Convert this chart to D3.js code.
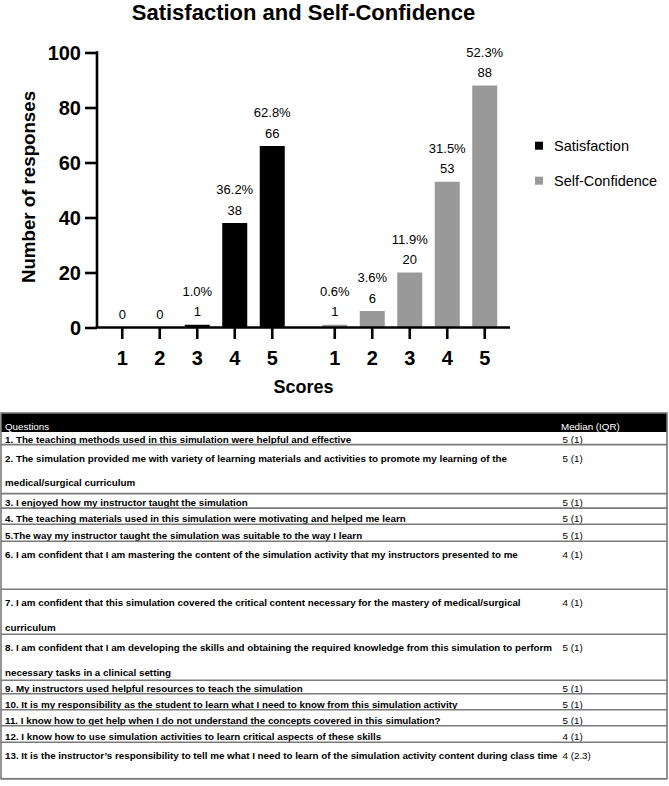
<!DOCTYPE html>
<html>
<head>
<meta charset="utf-8">
<script src="https://cdn.jsdelivr.net/npm/d3@7/dist/d3.min.js"></script>
<style>
  html, body { margin: 0; padding: 0; background: #fff; }
  svg { display: block; font-family: "Liberation Sans", Arial, Helvetica, sans-serif; }
</style>
</head>
<body>
<svg id="chart" width="669" height="786"></svg>
<script>
// ---------------- DATA ----------------
const groups = ["Satisfaction", "Self-Confidence"];
const scores = ["1", "2", "3", "4", "5"];
const satisfactionCounts = [0, 0, 1, 38, 66];
const satisfactionPercents = [null, null, 1.0, 36.2, 62.8];
const selfConfidenceCounts = [1, 6, 20, 53, 88];
const selfConfidencePercents = [0.6, 3.6, 11.9, 31.5, 52.3];
const yTickValues = [0, 20, 40, 60, 80, 100];
const groupColors = ["#000000", "#999999"];

const tableHeader = ["Questions", "Median (IQR)"];
const questions = [
  ["1. The teaching methods used in this simulation were helpful and effective"],
  ["2. The simulation provided me with variety of learning materials and activities to promote my learning of the", "medical/surgical curriculum"],
  ["3. I enjoyed how my instructor taught the simulation"],
  ["4. The teaching materials used in this simulation were motivating and helped me learn"],
  ["5.The way my instructor taught the simulation was suitable to the way I learn"],
  ["6. I am confident that I am mastering the content of the simulation activity that my instructors presented to me"],
  ["7. I am confident that this simulation covered the critical content necessary for the mastery of medical/surgical", "curriculum"],
  ["8. I am confident that I am developing the skills and obtaining the required knowledge from this simulation to perform", "necessary tasks in a clinical setting"],
  ["9. My instructors used helpful resources to teach the simulation"],
  ["10. It is my responsibility as the student to learn what I need to know from this simulation activity"],
  ["11. I know how to get help when I do not understand the concepts covered in this simulation?"],
  ["12. I know how to use simulation activities to learn critical aspects of these skills"],
  ["13. It is the instructor\u2019s responsibility to tell me what I need to learn of the simulation activity content during class time"]
];
const medians = ["5 (1)", "5 (1)", "5 (1)", "5 (1)", "5 (1)", "4 (1)", "4 (1)", "5 (1)", "5 (1)", "5 (1)", "5 (1)", "4 (1)", "4 (2.3)"];

// ---------------- CHART ----------------
const svg = d3.select("#chart");
const counts = [satisfactionCounts, selfConfidenceCounts];
const percents = [satisfactionPercents, selfConfidencePercents];
const bars = [];
groups.forEach((g, gi) => scores.forEach((s, si) => {
  bars.push({ group: g, gi, score: s, value: counts[gi][si], pct: percents[gi][si] });
}));

const axisX0 = 97, axisX1 = 510;
const y = d3.scaleLinear().domain([0, 100]).range([327.5, 52.5]);
const xOuter = d3.scaleBand().domain(groups).range([103.5, 503.5]).paddingInner(25 / 212.5).paddingOuter(0);
const xInner = d3.scaleBand().domain(scores).range([0, xOuter.bandwidth()]).paddingInner(1 / 3).paddingOuter(1 / 6);
const xPos = d => xOuter(d.group) + xInner(d.score);
const plotCenter = (axisX0 + axisX1) / 2;

// Title
svg.append("text")
  .attr("x", plotCenter).attr("y", 20)
  .attr("text-anchor", "middle")
  .style("font-size", "22px").style("font-weight", "bold")
  .text("Satisfaction and Self-Confidence");

// Bars
svg.append("g").selectAll("rect").data(bars).join("rect")
  .attr("x", d => xPos(d))
  .attr("y", d => y(d.value))
  .attr("width", xInner.bandwidth())
  .attr("height", d => y(0) - y(d.value))
  .attr("fill", d => groupColors[d.gi]);

// Value labels
const lbl = svg.append("g").style("font-size", "13px").attr("text-anchor", "middle");
lbl.selectAll("text.count").data(bars).join("text")
  .attr("class", "count")
  .attr("x", d => xPos(d) + xInner.bandwidth() / 2)
  .attr("y", d => y(d.value) - 8.5)
  .text(d => d.value);
lbl.selectAll("text.pct").data(bars.filter(d => d.pct != null)).join("text")
  .attr("class", "pct")
  .attr("x", d => xPos(d) + xInner.bandwidth() / 2)
  .attr("y", d => y(d.value) - 29)
  .text(d => d.pct.toFixed(1) + "%");

// Y axis
const yAxis = d3.axisLeft(y).tickValues(yTickValues).tickSize(12).tickPadding(4);
const gy = svg.append("g").attr("transform", `translate(${axisX0},0)`).call(yAxis);
gy.select(".domain").attr("d", `M0,${y(100) - 1.3}V${y(0)}`).attr("stroke", "#000").attr("stroke-width", 2.6);
gy.selectAll(".tick line").attr("stroke", "#000").attr("stroke-width", 2.6);
gy.selectAll(".tick text").attr("fill", "#000").style("font-size", "20px").style("font-weight", "bold")
  .style("font-family", "'Liberation Sans', Arial, sans-serif").attr("dy", "0.36em");

// X axis line and ticks
svg.append("line").attr("x1", axisX0 - 1.3).attr("x2", axisX1).attr("y1", y(0)).attr("y2", y(0))
  .attr("stroke", "#000").attr("stroke-width", 2.6);
const xt = svg.append("g");
xt.selectAll("line").data(bars).join("line")
  .attr("x1", d => xPos(d) + xInner.bandwidth() / 2).attr("x2", d => xPos(d) + xInner.bandwidth() / 2)
  .attr("y1", y(0)).attr("y2", y(0) + 11.5)
  .attr("stroke", "#000").attr("stroke-width", 2.6);
xt.selectAll("text").data(bars).join("text")
  .attr("x", d => xPos(d) + xInner.bandwidth() / 2).attr("y", 364.5)
  .attr("text-anchor", "middle")
  .style("font-size", "20px").style("font-weight", "bold")
  .text(d => d.score);

// Axis titles
svg.append("text").attr("x", plotCenter).attr("y", 393)
  .attr("text-anchor", "middle").style("font-size", "18px").style("font-weight", "bold")
  .text("Scores");
svg.append("text").attr("transform", `translate(35,${187}) rotate(-90)`)
  .attr("text-anchor", "middle").style("font-size", "18.7px").style("font-weight", "bold")
  .text("Number of responses");

// Legend
const leg = svg.append("g").selectAll("g").data(groups).join("g")
  .attr("transform", (d, i) => `translate(535,${145.7 + i * 35})`);
leg.append("rect").attr("x", 0).attr("y", -4).attr("width", 8).attr("height", 8)
  .attr("fill", (d, i) => groupColors[i]);
leg.append("text").attr("x", 19).attr("y", 0).attr("dy", "0.36em")
  .style("font-size", "14.5px").text(d => d);

// ---------------- TABLE ----------------
const tableTop = 413, headerH = 19, tableL = 1, tableR = 667, medianX = 561;
const rowHeights = [12.6, 49, 14.5, 16.2, 17, 48, 45, 46, 13.4, 16, 16, 16.6, 36.4];
const tg = svg.append("g").style("font-size", "9.8px");
tg.append("rect").attr("x", tableL).attr("y", tableTop).attr("width", tableR - tableL).attr("height", headerH).attr("fill", "#000");
tg.selectAll("text.hdr").data(tableHeader).join("text").attr("class", "hdr")
  .attr("x", (d, i) => i === 0 ? tableL + 4 : medianX)
  .attr("y", tableTop + headerH - 2)
  .attr("fill", "#fff").text(d => d);

let tops = [];
let acc = tableTop + headerH;
rowHeights.forEach(h => { tops.push(acc); acc += h; });
const tableBottom = acc;

const rows = tg.selectAll("g.row").data(questions).join("g").attr("class", "row");
rows.each(function (lines, i) {
  const g = d3.select(this);
  const top = tops[i], h = rowHeights[i];
  const first = lines.length > 1 || h > 30 ? 17 : h - 2;
  lines.forEach((ln, li) => {
    g.append("text").attr("x", tableL + 4).attr("y", top + first + li * 24.5)
      .style("font-weight", "bold").text(ln);
  });
  g.append("text").attr("x", medianX + 1.5).attr("y", top + first).text(medians[i]);
  g.append("line").attr("x1", tableL).attr("x2", tableR).attr("y1", top + h).attr("y2", top + h)
    .attr("stroke", "#7a7a7a").attr("stroke-width", 1.6);
});
// outer border
tg.append("rect").attr("x", tableL).attr("y", tableTop).attr("width", tableR - tableL).attr("height", tableBottom - tableTop)
  .attr("fill", "none").attr("stroke", "#7a7a7a").attr("stroke-width", 1.6);
</script>
</body>
</html>
